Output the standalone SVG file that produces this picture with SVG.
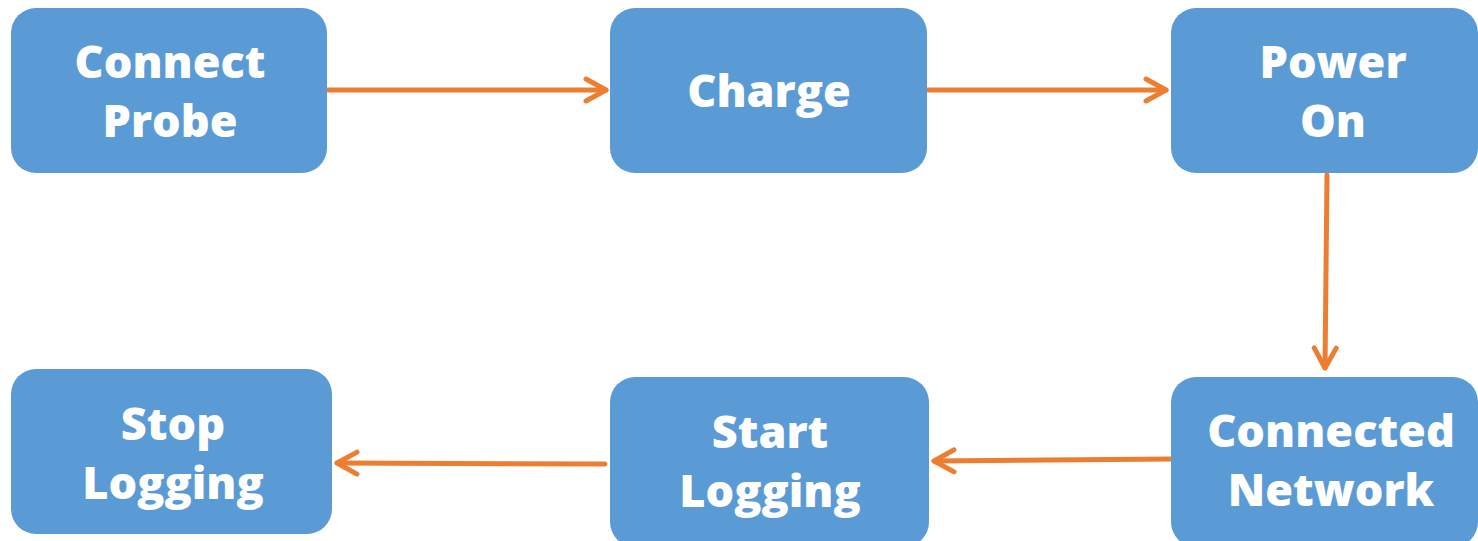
<svg xmlns="http://www.w3.org/2000/svg" width="1478" height="541" viewBox="0 0 1478 541">
<style>
.box{fill:#5B9BD5;}
.lbl{fill:#fff;font-family:"Open Sans","Liberation Sans",sans-serif;font-weight:800;font-size:45px;text-anchor:middle;}
.conn{stroke:#ED7D31;stroke-width:5;fill:none;stroke-linecap:round;marker-end:url(#ah);}
</style>
<defs>
<marker id="ah" markerUnits="userSpaceOnUse" viewBox="-24 -14 28 28" refX="0" refY="0" markerWidth="28" markerHeight="28" orient="auto">
<path d="M-20,-11 L0,0 L-20,11" fill="none" stroke="#ED7D31" stroke-width="5" stroke-linecap="round" stroke-linejoin="round"/>
</marker>
</defs>
<rect width="1478" height="541" fill="#fff"/>
<g id="connectors">
<line class="conn" x1="328" y1="90" x2="606" y2="90"/>
<line class="conn" x1="928" y1="90" x2="1166" y2="90"/>
<line class="conn" x1="1327" y1="175" x2="1325" y2="368"/>
<line class="conn" x1="1172" y1="459" x2="934" y2="461"/>
<line class="conn" x1="605" y1="464" x2="337" y2="463"/>
</g>
<g id="connect-probe"><rect class="box" x="11" y="8" width="316" height="165" rx="25"/><text class="lbl" x="170" y="78">Connect</text><text class="lbl" x="170" y="137">Probe</text></g>
<g id="charge"><rect class="box" x="610" y="8" width="317" height="165" rx="25"/><text class="lbl" x="769" y="107">Charge</text></g>
<g id="power-on"><rect class="box" x="1171" y="8" width="307" height="165" rx="25"/><text class="lbl" x="1333" y="78">Power</text><text class="lbl" x="1333" y="137">On</text></g>
<g id="connected-network"><rect class="box" x="1171" y="377" width="307" height="170" rx="25"/><text class="lbl" x="1331" y="447">Connected</text><text class="lbl" x="1331" y="506">Network</text></g>
<g id="start-logging"><rect class="box" x="610" y="377" width="319" height="170" rx="25"/><text class="lbl" x="770" y="448">Start</text><text class="lbl" x="770" y="507">Logging</text></g>
<g id="stop-logging"><rect class="box" x="11" y="369" width="321" height="165" rx="25"/><text class="lbl" x="173" y="440">Stop</text><text class="lbl" x="173" y="499">Logging</text></g>
</svg>
